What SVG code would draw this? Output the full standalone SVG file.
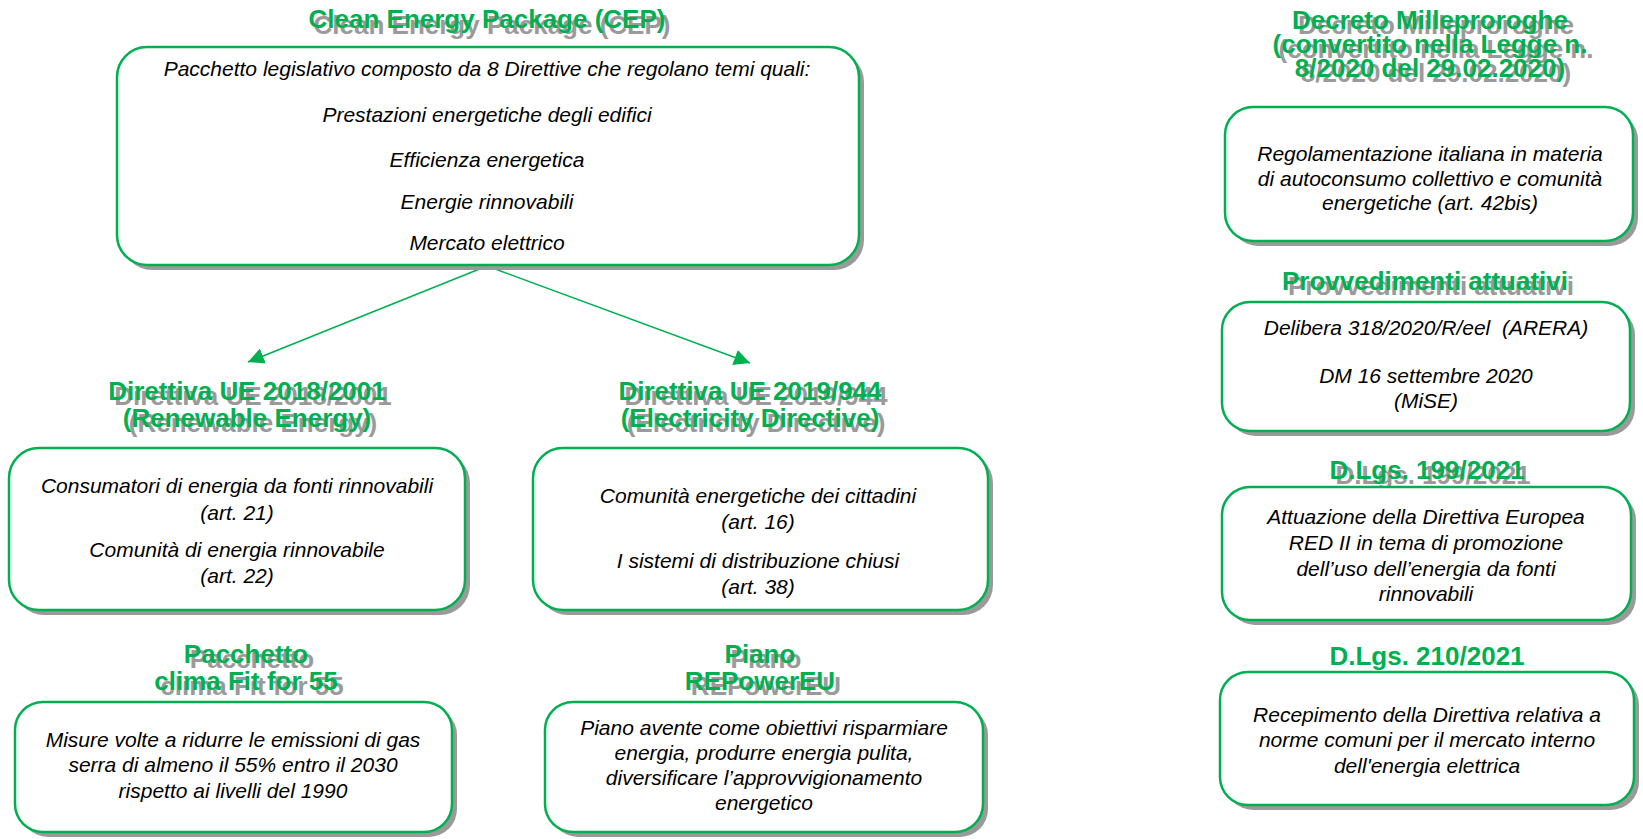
<svg xmlns="http://www.w3.org/2000/svg" width="1643" height="839" viewBox="0 0 1643 839">
<defs>
<style>
.t{font-family:"Liberation Sans",Arial,sans-serif;font-weight:bold;font-size:26px;fill:#00B050;text-anchor:middle}
.ts{font-family:"Liberation Sans",Arial,sans-serif;font-weight:bold;font-size:26px;fill:#9a9a9a;text-anchor:middle}
.b{font-family:"Liberation Sans",Arial,sans-serif;font-style:italic;font-size:21px;fill:#000;text-anchor:middle}
.box{fill:#fff;stroke:#00B050;stroke-width:2.5}
.sh{fill:#9a9a9a}
.conn{stroke:#00B050;stroke-width:1.6;fill:none}
</style>
<marker id="arr" markerUnits="userSpaceOnUse" markerWidth="18" markerHeight="16" refX="16" refY="8" orient="auto">
<path d="M0,0 L16,8 L0,16 Z" fill="#00B050"/>
</marker>
</defs>
<rect width="1643" height="839" fill="#fff"/>

<g id="connectors">
<line class="conn" x1="487" y1="266" x2="248" y2="362" marker-end="url(#arr)"/>
<line class="conn" x1="487" y1="266" x2="750" y2="363" marker-end="url(#arr)"/>
</g>

<g id="cep">
<text class="ts" x="492" y="34">Clean Energy Package (CEP)</text>
<text class="t" x="487" y="28">Clean Energy Package (CEP)</text>
<rect class="sh" x="122" y="52" width="742" height="218" rx="30"/>
<rect class="box" x="117" y="47" width="742" height="218" rx="30"/>
<text class="b" x="487" y="76">Pacchetto legislativo composto da 8 Direttive che regolano temi quali:</text>
<text class="b" x="487" y="122">Prestazioni energetiche degli edifici</text>
<text class="b" x="487" y="167">Efficienza energetica</text>
<text class="b" x="487" y="209">Energie rinnovabili</text>
<text class="b" x="487" y="250">Mercato elettrico</text>
</g>

<g id="red">
<text class="ts" x="253" y="405">Direttiva UE 2018/2001</text>
<text class="ts" x="253" y="432">(Renewable Energy)</text>
<text class="t" x="247" y="400">Direttiva UE 2018/2001</text>
<text class="t" x="247" y="427">(Renewable Energy)</text>
<rect class="sh" x="14" y="453" width="456" height="162" rx="30"/>
<rect class="box" x="9" y="448" width="456" height="162" rx="30"/>
<text class="b" x="237" y="493">Consumatori di energia da fonti rinnovabili</text>
<text class="b" x="237" y="520">(art. 21)</text>
<text class="b" x="237" y="557">Comunità di energia rinnovabile</text>
<text class="b" x="237" y="583">(art. 22)</text>
</g>

<g id="ed">
<text class="ts" x="756" y="405">Direttiva UE 2019/944</text>
<text class="ts" x="756" y="432">(Electricity Directive)</text>
<text class="t" x="750" y="400">Direttiva UE 2019/944</text>
<text class="t" x="750" y="427">(Electricity Directive)</text>
<rect class="sh" x="538" y="453" width="455" height="162" rx="30"/>
<rect class="box" x="533" y="448" width="455" height="162" rx="30"/>
<text class="b" x="758" y="503">Comunità energetiche dei cittadini</text>
<text class="b" x="758" y="529">(art. 16)</text>
<text class="b" x="758" y="568">I sistemi di distribuzione chiusi</text>
<text class="b" x="758" y="594">(art. 38)</text>
</g>

<g id="fit55">
<text class="ts" x="252" y="668">Pacchetto</text>
<text class="ts" x="252" y="695">clima Fit for 55</text>
<text class="t" x="246" y="663">Pacchetto</text>
<text class="t" x="246" y="690">clima Fit for 55</text>
<rect class="sh" x="20" y="707" width="437" height="130" rx="28"/>
<rect class="box" x="15" y="702" width="437" height="130" rx="28"/>
<text class="b" x="233" y="747">Misure volte a ridurre le emissioni di gas</text>
<text class="b" x="233" y="772">serra di almeno il 55% entro il 2030</text>
<text class="b" x="233" y="798">rispetto ai livelli del 1990</text>
</g>

<g id="repower">
<text class="ts" x="766" y="668">Piano</text>
<text class="ts" x="766" y="695">REPowerEU</text>
<text class="t" x="760" y="663">Piano</text>
<text class="t" x="760" y="690">REPowerEU</text>
<rect class="sh" x="550" y="707" width="438" height="130" rx="28"/>
<rect class="box" x="545" y="702" width="438" height="130" rx="28"/>
<text class="b" x="764" y="735">Piano avente come obiettivi risparmiare</text>
<text class="b" x="764" y="760">energia, produrre energia pulita,</text>
<text class="b" x="764" y="785">diversificare l’approvvigionamento</text>
<text class="b" x="764" y="810">energetico</text>
</g>

<g id="milleproroghe">
<text class="ts" x="1436" y="34">Decreto Milleproroghe</text>
<text class="ts" x="1436" y="58">(convertito nella Legge n.</text>
<text class="ts" x="1436" y="82">8/2020 del 29.02.2020)</text>
<text class="t" x="1430" y="29">Decreto Milleproroghe</text>
<text class="t" x="1430" y="53">(convertito nella Legge n.</text>
<text class="t" x="1430" y="77">8/2020 del 29.02.2020)</text>
<rect class="sh" x="1230" y="112" width="408" height="134" rx="28"/>
<rect class="box" x="1225" y="107" width="408" height="134" rx="28"/>
<text class="b" x="1430" y="161">Regolamentazione italiana in materia</text>
<text class="b" x="1430" y="186">di autoconsumo collettivo e comunità</text>
<text class="b" x="1430" y="210">energetiche (art. 42bis)</text>
</g>

<g id="provvedimenti">
<text class="ts" x="1431" y="295">Provvedimenti attuativi</text>
<text class="t" x="1425" y="290">Provvedimenti attuativi</text>
<rect class="sh" x="1227" y="307" width="408" height="129" rx="28"/>
<rect class="box" x="1222" y="302" width="408" height="129" rx="28"/>
<text class="b" x="1426" y="335" xml:space="preserve">Delibera 318/2020/R/eel  (ARERA)</text>
<text class="b" x="1426" y="383">DM 16 settembre 2020</text>
<text class="b" x="1426" y="408">(MiSE)</text>
</g>

<g id="dlgs199">
<text class="ts" x="1433" y="484">D.Lgs. 199/2021</text>
<text class="t" x="1427" y="479">D.Lgs. 199/2021</text>
<rect class="sh" x="1227" y="492" width="409" height="133" rx="28"/>
<rect class="box" x="1222" y="487" width="409" height="133" rx="28"/>
<text class="b" x="1426" y="524">Attuazione della Direttiva Europea</text>
<text class="b" x="1426" y="550">RED II in tema di promozione</text>
<text class="b" x="1426" y="576">dell’uso dell’energia da fonti</text>
<text class="b" x="1426" y="601">rinnovabili</text>
</g>

<g id="dlgs210">
<text class="t" x="1427" y="665">D.Lgs. 210/2021</text>
<rect class="sh" x="1225" y="677" width="414" height="133" rx="28"/>
<rect class="box" x="1220" y="672" width="414" height="133" rx="28"/>
<text class="b" x="1427" y="722">Recepimento della Direttiva relativa a</text>
<text class="b" x="1427" y="747">norme comuni per il mercato interno</text>
<text class="b" x="1427" y="773">dell'energia elettrica</text>
</g>
</svg>
